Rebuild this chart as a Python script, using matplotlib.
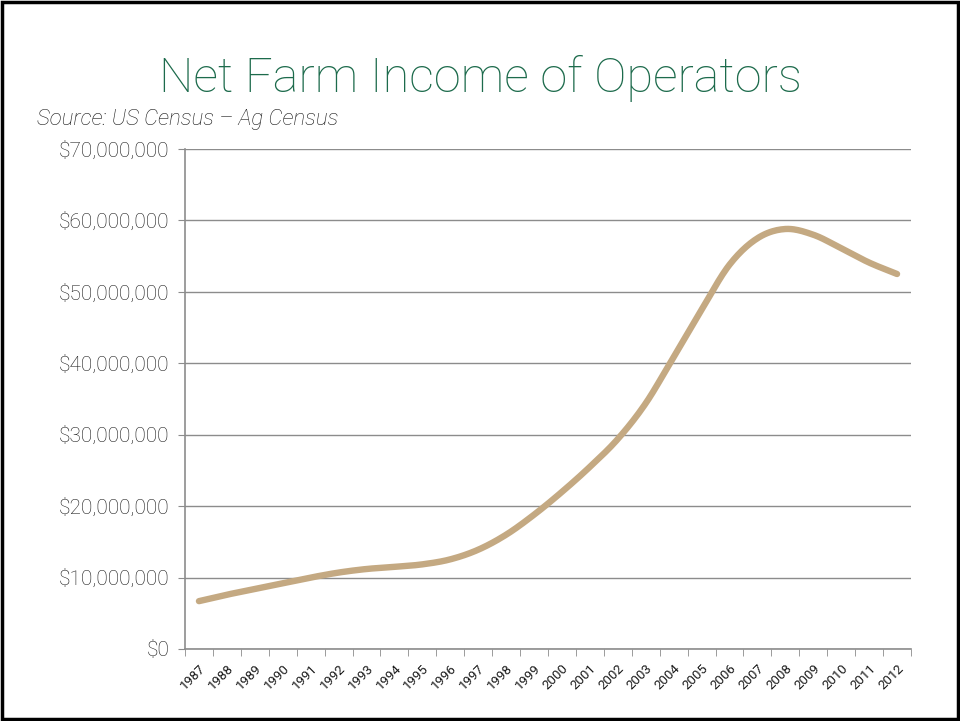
import matplotlib
matplotlib.use('Agg')

import matplotlib.pyplot as plt
from matplotlib.patches import Rectangle
from matplotlib.ticker import FuncFormatter, MultipleLocator
import numpy as np

years = list(range(1987, 2013))
income = [6.7, 7.6, 8.4, 9.2, 10.0, 10.7, 11.2, 11.5, 11.85, 12.55,
          13.9, 16.0, 18.8, 22.0, 25.5, 29.4, 34.4, 40.9, 47.5, 53.8,
          57.5, 58.8, 58.0, 56.1, 54.1, 52.5]  # millions of dollars

title = 'Net Farm Income of Operators'
source = 'Source: US Census \u2013 Ag Census'

LINE = '#c4a982'
GREEN = '#1d6b4c'
GRID = '#8c8c8c'
TEXT = '#1a1a1a'
FONT = ['Roboto', 'DejaVu Sans']


def smooth(xs, ys, steps=20):
    # Catmull-Rom curve through the points, like a spreadsheet "smoothed line"
    xs = np.asarray(xs, float)
    ys = np.asarray(ys, float)
    px = np.concatenate([[2 * xs[0] - xs[1]], xs, [2 * xs[-1] - xs[-2]]])
    py = np.concatenate([[2 * ys[0] - ys[1]], ys, [2 * ys[-1] - ys[-2]]])
    t = np.linspace(0, 1, steps, endpoint=False)
    outx, outy = [], []
    for i in range(1, len(px) - 2):
        for arr, out in ((px, outx), (py, outy)):
            p0, p1, p2, p3 = arr[i - 1:i + 3]
            out.extend(0.5 * (2 * p1 + (-p0 + p2) * t
                              + (2 * p0 - 5 * p1 + 4 * p2 - p3) * t ** 2
                              + (-p0 + 3 * p1 - 3 * p2 + p3) * t ** 3))
    outx.append(xs[-1])
    outy.append(ys[-1])
    return np.array(outx), np.array(outy)


fig = plt.figure(figsize=(9.6, 7.21), dpi=100)
ax = fig.add_axes([185 / 960, 1 - 649 / 721, 726 / 960, 500 / 721])

x = np.arange(len(years))
sx, sy = smooth(x, np.array(income) * 1e6)
ax.plot(sx, sy, color=LINE, lw=4.6,
        solid_capstyle='round', solid_joinstyle='round', zorder=3)

ax.set_xlim(-0.5, len(years) - 0.5)
ax.set_ylim(0, 70e6)
ax.yaxis.set_major_locator(MultipleLocator(10e6))
ax.yaxis.set_major_formatter(FuncFormatter(lambda v, _: f'${v:,.0f}'))
ax.grid(axis='y', color=GRID, lw=1.0)
ax.set_axisbelow(True)

ax.set_xticks(x)
ax.set_xticklabels([str(y) for y in years], rotation=45, ha='right',
                   rotation_mode='anchor', fontsize=9.5, family=FONT,
                   color=TEXT)
ax.set_xticks(np.arange(-0.5, len(years)), minor=True)
ax.tick_params(axis='x', which='major', length=0, pad=9)
ax.tick_params(axis='x', which='minor', length=5, color=GRID, direction='out')
ax.tick_params(axis='y', length=5, color=GRID, pad=6, labelsize=15,
               labelcolor=TEXT)
for lab in ax.get_yticklabels():
    lab.set_family(FONT)
    lab.set_fontweight('light')

for side in ('top', 'right'):
    ax.spines[side].set_visible(False)
for side in ('left', 'bottom'):
    ax.spines[side].set_color(GRID)
    ax.spines[side].set_linewidth(1.2)

fig.text(0.5, 1 - 78 / 721, title, ha='center', va='center', fontsize=35,
         color=GREEN, family=FONT, fontweight='light')
fig.text(37 / 960, 1 - 119 / 721, source, ha='left', va='center', fontsize=16,
         style='italic', family=FONT, fontweight='light', color=TEXT)

# slide frame
fig.patches.append(Rectangle((0.002, 0.003), 0.996, 0.994, transform=fig.transFigure,
                             fill=False, edgecolor='black', lw=2.5))

fig.savefig('out.png', dpi=100)
